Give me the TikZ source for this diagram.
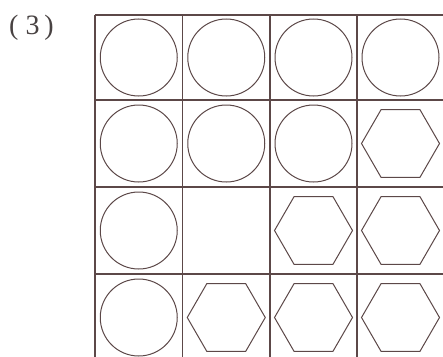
\documentclass[tikz,border=0pt]{standalone}
\usepackage{fontspec}
\newfontfamily\labelfont{Liberation Serif}
\usetikzlibrary{shapes.geometric}
\definecolor{ink}{RGB}{92,72,72}
\definecolor{labelink}{RGB}{72,66,66}
\tikzset{
  gridline/.style={draw=ink, line width=1.5pt},
  circ/.style={circle, draw=ink, line width=1pt, minimum size=77pt, inner sep=0pt, outer sep=0pt},
  hexa/.style={regular polygon, regular polygon sides=6, draw=ink, line width=1pt, minimum size=78pt, inner sep=0pt, outer sep=0pt},
  lbl/.style={text=labelink, font=\labelfont\fontsize{28}{30}\selectfont, inner sep=0pt, anchor=base}
}
\begin{document}
\begin{tikzpicture}[x=1pt,y=-1pt]
\useasboundingbox (0,0) rectangle (443,356);
\clip (0,0) rectangle (443,356);
\fill[white] (0,0) rectangle (443,356);
% label
\node[lbl] (lab) at (31.5,34) {(\hspace{7pt}3\hspace{5pt})};
% grid
\foreach \x in {95,182.5,270,357,444} \draw[gridline] (\x,15) -- (\x,362);
\foreach \y in {15,100,187,274,361} \draw[gridline] (95,\y) -- (445,\y);
% row 1
\node[circ] (c11) at (138.75,57.5) {};
\node[circ] (c12) at (226.25,57.5) {};
\node[circ] (c13) at (313.5,57.5) {};
\node[circ] (c14) at (400.5,57.5) {};
% row 2
\node[circ] (c21) at (138.75,143.5) {};
\node[circ] (c22) at (226.25,143.5) {};
\node[circ] (c23) at (313.5,143.5) {};
\node[hexa] (h24) at (400.5,143.5) {};
% row 3
\node[circ] (c31) at (138.75,230.5) {};
\node[hexa] (h33) at (313.5,230.5) {};
\node[hexa] (h34) at (400.5,230.5) {};
% row 4
\node[circ] (c41) at (138.75,317.5) {};
\node[hexa] (h42) at (226.25,317.5) {};
\node[hexa] (h43) at (313.5,317.5) {};
\node[hexa] (h44) at (400.5,317.5) {};
\end{tikzpicture}
\end{document}
